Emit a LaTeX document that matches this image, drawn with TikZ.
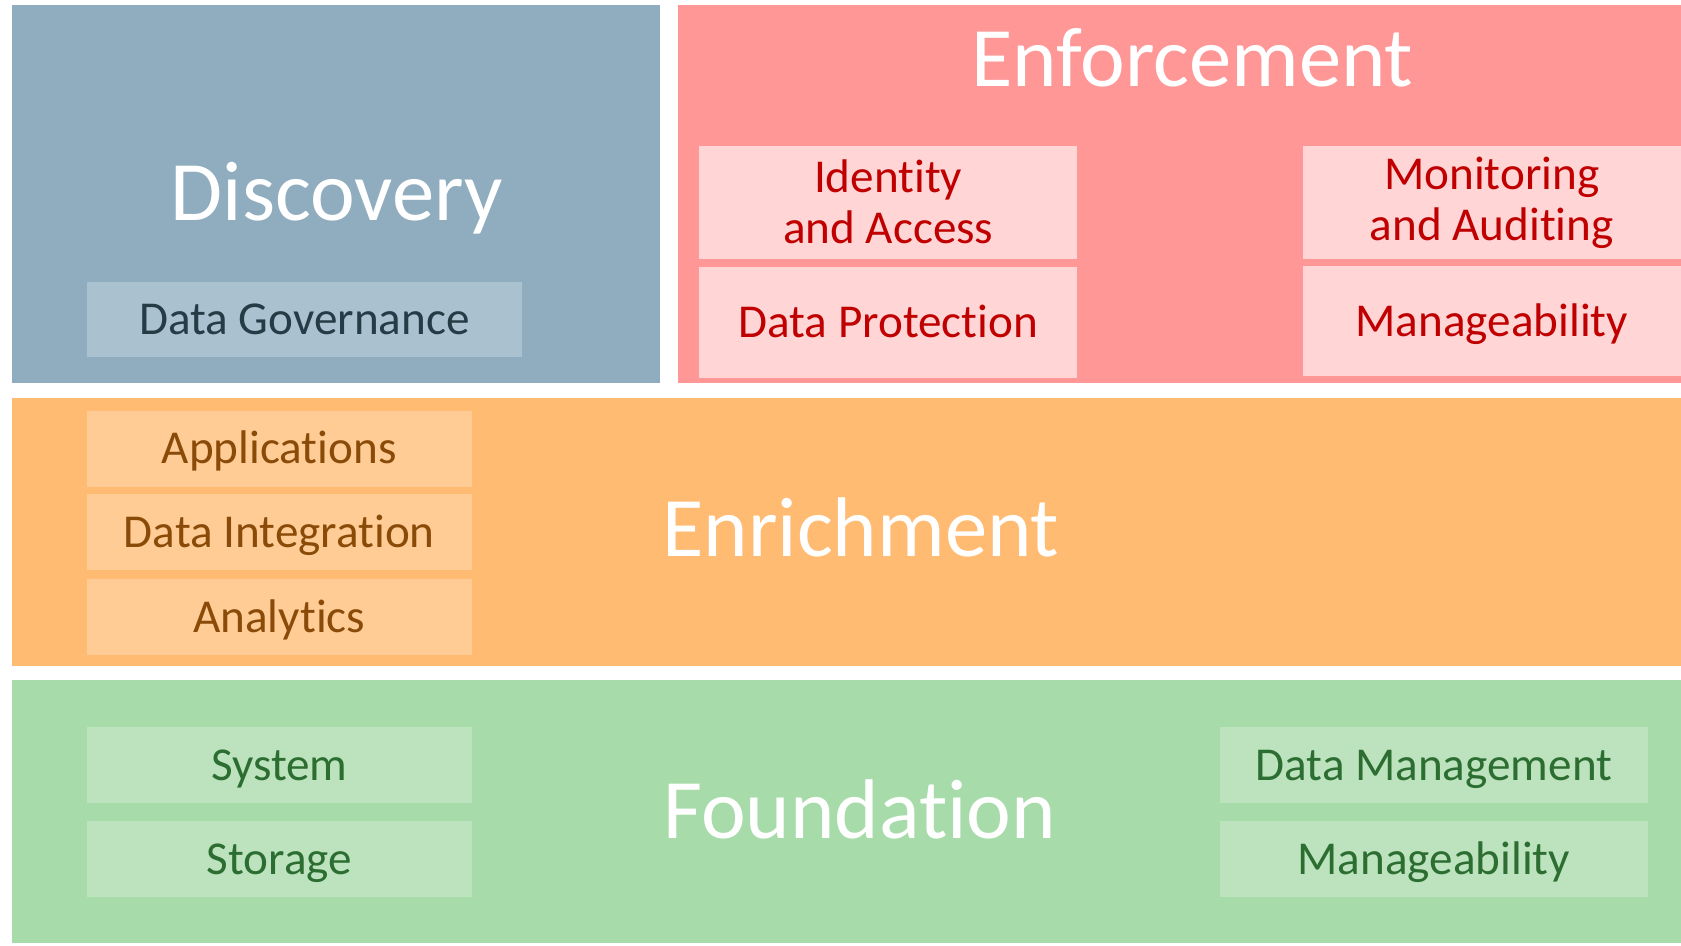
\documentclass[tikz,border=0pt]{standalone}
\usepackage{fontspec}
\setmainfont{Carlito}[Ligatures={NoCommon}]
\definecolor{discbg}{HTML}{8FADBF}
\definecolor{discbox}{HTML}{AAC1CF}
\definecolor{disctx}{HTML}{253B45}
\definecolor{enfbg}{HTML}{FF9797}
\definecolor{enfbox}{HTML}{FFD5D6}
\definecolor{enftx}{HTML}{C00000}
\definecolor{enrbg}{HTML}{FFBB72}
\definecolor{enrbox}{HTML}{FFCC96}
\definecolor{enrtx}{HTML}{8A4B08}
\definecolor{fndbg}{HTML}{A7DBA9}
\definecolor{fndbox}{HTML}{BDE3BE}
\definecolor{fndtx}{HTML}{2C6E31}
\tikzset{
  panel/.style={anchor=north west, inner sep=0pt, outer sep=0pt},
  title/.style={text=white, inner sep=0pt, font=\fontsize{79}{95}\selectfont, text height=51pt, text depth=0pt},
  sub/.style={anchor=north west, inner sep=0pt, outer sep=0pt, font=\fontsize{44}{48}\selectfont, text height=28.3pt, text depth=0pt},
  subtwo/.style={anchor=north west, inner sep=0pt, outer sep=0pt},
  twotext/.style={inner sep=0pt, align=center, font=\fontsize{44}{48}\selectfont},
}
\begin{document}
\begin{tikzpicture}[x=1pt,y=-1pt]
\useasboundingbox (0,0) rectangle (1568,882);
\fill[white] (0,0) rectangle (1568,882);
% panels
\node[panel, fill=discbg, minimum width=605, minimum height=352] (disc) at (11,5) {};
\node[panel, fill=enfbg, minimum width=936, minimum height=352] (enf) at (632,5) {};
\node[panel, fill=enrbg, minimum width=1557, minimum height=250] (enr) at (11,371) {};
\node[panel, fill=fndbg, minimum width=1557, minimum height=246] (fnd) at (11,634) {};
% titles
\node[title] (disct) at (314,180) {Discovery};
\node[title] (enft) at (1112,55) {Enforcement};
\node[title] (enrt) at (803,494) {Enrichment};
\node[title] (fndt) at (802,757) {Foundation};
% discovery
\node[sub, fill=discbox, text=disctx, minimum width=406, minimum height=70] (gov) at (81,263) {Data Governance};
% enforcement
\node[subtwo, fill=enfbox, minimum width=353, minimum height=106] (idb) at (652,136) {};
\node[twotext, text=enftx] (idt) at ([yshift=1pt]idb.center) {Identity\\and Access};
\node[sub, fill=enfbox, text=enftx, minimum width=353, minimum height=104] (prot) at (652,249) {Data Protection};
\node[subtwo, fill=enfbox, minimum width=353, minimum height=106] (monb) at (1215,136) {};
\node[twotext, text=enftx] (mont) at (monb.center) {Monitoring\\and Auditing};
\node[sub, fill=enfbox, text=enftx, minimum width=353, minimum height=103] (manE) at (1215,248) {Manageability};
% enrichment
\node[sub, fill=enrbox, text=enrtx, minimum width=359, minimum height=71] (app) at (81,383) {Applications};
\node[sub, fill=enrbox, text=enrtx, minimum width=359, minimum height=71] (integ) at (81,461) {Data Integration};
\node[sub, fill=enrbox, text=enrtx, minimum width=359, minimum height=71] (anal) at (81,540) {Analytics};
% foundation
\node[sub, fill=fndbox, text=fndtx, minimum width=359, minimum height=71] (sys) at (81,678) {System};
\node[sub, fill=fndbox, text=fndtx, minimum width=359, minimum height=71] (stor) at (81,766) {Storage};
\node[sub, fill=fndbox, text=fndtx, minimum width=399, minimum height=71] (dm) at (1138,678) {Data Management};
\node[sub, fill=fndbox, text=fndtx, minimum width=399, minimum height=71] (manF) at (1138,766) {Manageability};
\end{tikzpicture}
\end{document}
